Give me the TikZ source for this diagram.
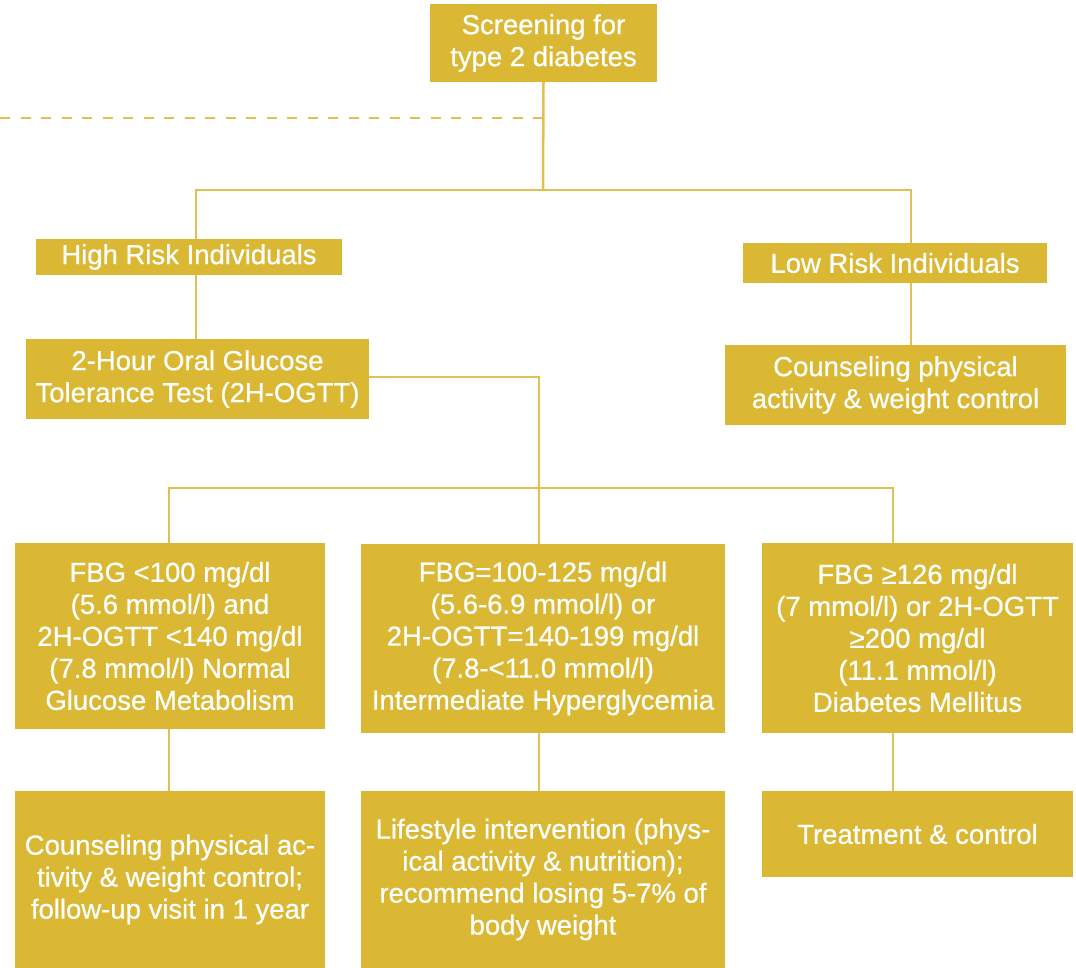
\documentclass[tikz,border=0pt]{standalone}
\usepackage{fontspec}
\setmainfont[FakeBold=0.6]{Liberation Sans}
\definecolor{boxgold}{HTML}{DBB834}
\definecolor{linegold}{HTML}{E0C052}
\begin{document}
\begin{tikzpicture}[x=1pt,y=-1pt,
  box/.style={fill=boxgold, draw=none, text=white, inner sep=0pt, align=center,
    font=\fontsize{27.5pt}{32pt}\selectfont},
  conn/.style={draw=linegold, line width=2.5pt},
  dashconn/.style={draw=linegold, line width=2.5pt, dash pattern=on 10pt off 10.5pt}]
\useasboundingbox (0,0) rectangle (1076,968);

\node[box, minimum width=227pt, minimum height=78pt] (top) at (543.5,43) {Screening for\\type 2 diabetes};
\node[box, minimum width=306pt, minimum height=36pt] (hr) at (189,257) {High Risk Individuals};
\node[box, minimum width=304pt, minimum height=40pt] (lr) at (895,263) {Low Risk Individuals};
\node[box, minimum width=343pt, minimum height=80pt] (ogtt) at (197.5,379) {2-Hour Oral Glucose\\Tolerance Test (2H-OGTT)};
\node[box, minimum width=341pt, minimum height=80pt] (cl) at (895.5,385) {Counseling physical\\activity \& weight control};

\node[box, minimum width=310pt, minimum height=186pt] (n1) at (170,636) {FBG <100 mg/dl\\(5.6 mmol/l) and\\2H-OGTT <140 mg/dl\\(7.8 mmol/l) Normal\\Glucose Metabolism};
\node[box, minimum width=364pt, minimum height=189pt] (n2) at (543,638.5) {FBG=100-125 mg/dl\\(5.6-6.9 mmol/l) or\\2H-OGTT=140-199 mg/dl\\(7.8-<11.0 mmol/l)\\Intermediate Hyperglycemia};
\node[box, minimum width=311pt, minimum height=190pt] (n3) at (917.5,638) {FBG ≥126 mg/dl\\(7 mmol/l) or 2H-OGTT\\≥200 mg/dl\\(11.1 mmol/l)\\Diabetes Mellitus};

\node[box, minimum width=310pt, minimum height=177pt] (b1) at (170,879.5) {Counseling physical ac-\\tivity \& weight control;\\follow-up visit in 1 year};
\node[box, minimum width=364pt, minimum height=177pt] (b2) at (543,879.5) {Lifestyle intervention (phys-\\ical activity \& nutrition);\\recommend losing 5-7\% of\\body weight};
\node[box, minimum width=311pt, minimum height=86pt] (b3) at (917.5,834) {Treatment \& control};

% connectors
\coordinate (j1) at (543,190);
\coordinate (dl) at (0,118);
\coordinate (j2) at (539,377);
\coordinate (j3) at (539,488);

\draw[dashconn] (dl) -- (dl -| top.south);
\draw[conn] (top.south) -- (j1);
\draw[conn] (j1) -| ([xshift=7pt]hr.north);
\draw[conn] (j1) -| ([xshift=16pt]lr.north);
\draw[conn] ([xshift=7pt]hr.south) -- ([xshift=-1.5pt]ogtt.north);
\draw[conn] ([xshift=16pt]lr.south) -- ([xshift=15.5pt]cl.north);
\draw[conn] ([yshift=2pt]ogtt.east) -| (n2.north -| j2);
\draw[conn] (j3) -| ([xshift=-1pt]n1.north);
\draw[conn] (j3) -| ([xshift=-24.5pt]n3.north);
\draw[conn] ([xshift=-1pt]n1.south) -- ([xshift=-1pt]b1.north);
\draw[conn] (n2.south -| j2) -- (b2.north -| j2);
\draw[conn] ([xshift=-24.5pt]n3.south) -- ([xshift=-24.5pt]b3.north);
\end{tikzpicture}
\end{document}
